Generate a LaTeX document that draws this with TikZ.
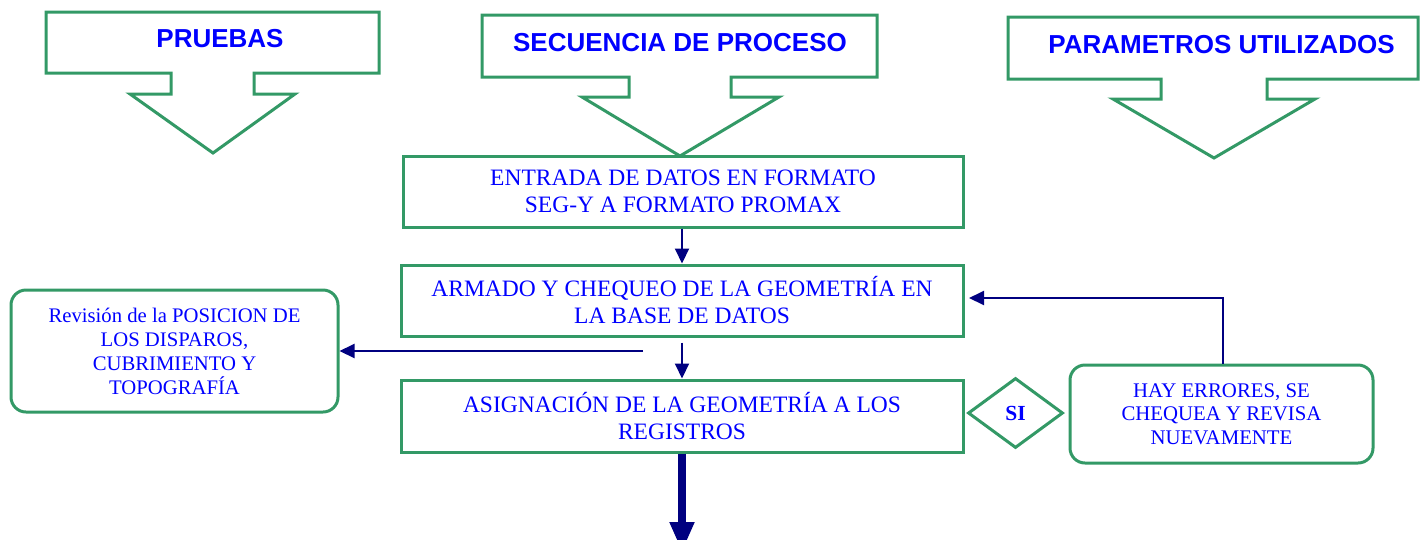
\documentclass[tikz,border=0pt]{standalone}
\usepackage{fontspec}
\setmainfont{Liberation Serif}
\newfontfamily\hdrfont{Liberation Sans}
\usetikzlibrary{arrows.meta,shapes.geometric}
\definecolor{gr}{RGB}{51,153,102}
\definecolor{nv}{RGB}{0,0,128}
\definecolor{bl}{RGB}{0,0,255}
\begin{document}
\begin{tikzpicture}[x=1pt,y=-1pt,
  callout/.style={draw=gr, line width=3pt, line join=miter},
  hdr/.style={font=\hdrfont\bfseries\fontsize{26}{30}\selectfont, text=bl},
  procbox/.style={draw=gr, line width=3pt, minimum width=560pt, minimum height=71pt, inner sep=0pt, text=bl, align=center, font=\fontsize{23.5}{27}\selectfont},
  roundbox/.style={draw=gr, line width=3pt, rounded corners=15pt, inner sep=0pt, text=bl, align=center, font=\fontsize{20.7}{24}\selectfont},
  flow/.style={draw=nv, line width=2pt, -{Triangle[length=15pt,width=14pt]}},
  bigflow/.style={draw=nv, line width=8pt, -{Triangle[length=30pt,width=23pt]}}]
\clip (0,0) rectangle (1426,539);
% header callouts
\draw[callout] (46,12) -- (379,12) -- (379,73) -- (254,73) -- (254,94) -- (295,94) -- (213,153) -- (130,94) -- (171,94) -- (171,73) -- (46,73) -- cycle;
\draw[callout] (482,15) -- (877,15) -- (877,77) -- (731,77) -- (731,97) -- (779,97) -- (680,156) -- (582,97) -- (629,97) -- (629,77) -- (482,77) -- cycle;
\draw[callout] (1008,17) -- (1418,17) -- (1418,79) -- (1267,79) -- (1267,99) -- (1315,99) -- (1214,158) -- (1113,99) -- (1161,99) -- (1161,79) -- (1008,79) -- cycle;
\node[hdr] (h1) at (220,38.5) {PRUEBAS};
\node[hdr] (h2) at (680,42.5) {SECUENCIA DE PROCESO};
\node[hdr] (h3) at (1221.5,44.5) {PARAMETROS UTILIZADOS};
% process boxes
\node[procbox] (b1) at (683,191.5) {ENTRADA DE DATOS EN FORMATO\\ SEG-Y A FORMATO PROMAX};
\node[procbox, minimum width=562pt] (b2) at (682,300.5) {ARMADO Y CHEQUEO DE LA GEOMETRÍA EN\\ LA BASE DE DATOS};
\node[procbox, minimum width=562pt, minimum height=72pt] (b3) at (682,416) {ASIGNACIÓN DE LA GEOMETRÍA A LOS\\ REGISTROS};
% side boxes
\node[roundbox, minimum width=327pt, minimum height=122pt] (lb) at (174.5,351) {Revisión de la POSICION DE\\ LOS DISPAROS,\\ CUBRIMIENTO Y\\ TOPOGRAFÍA};
\node[roundbox, minimum width=303pt, minimum height=98pt, font=\fontsize{20.8}{23.5}\selectfont] (rb) at (1221.5,414) {HAY ERRORES, SE\\ CHEQUEA Y REVISA\\ NUEVAMENTE};
\node[draw=gr, line width=3pt, shape=diamond, minimum width=95pt, minimum height=70pt, inner sep=0pt, text=bl, font=\bfseries\fontsize{21.5}{23}\selectfont] (si) at (1015.5,413) {SI};
% connectors
\draw[flow] (b1.south -| b2.north) -- (b2.north);
\draw[flow] ([yshift=-5pt]b2.south) -- (b3.north);
\coordinate (hs) at (643,351);
\draw[flow] (hs) -- (lb.east);
\coordinate (fbend) at (1223,298);
\coordinate (fend) at (969,298);
\draw[flow] (rb.north -| fbend) -- (fbend) -- (fend);
\coordinate (bend) at (682,552);
\draw[bigflow] (b3.south) -- (bend);
\end{tikzpicture}
\end{document}
